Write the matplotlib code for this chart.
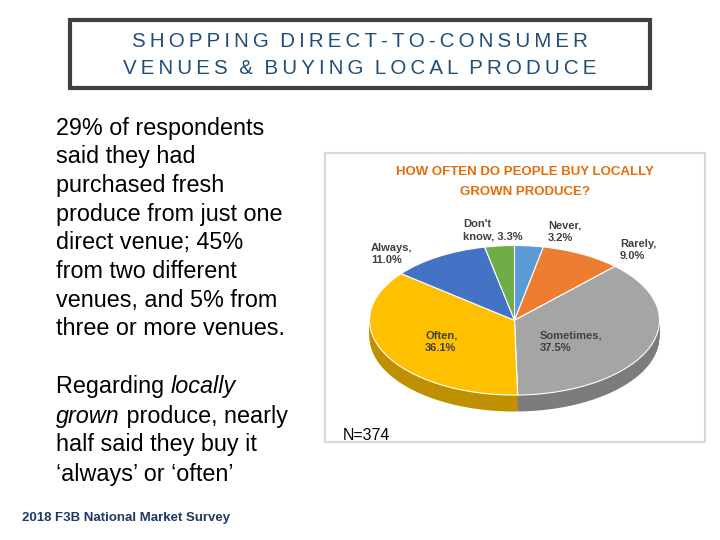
import matplotlib
matplotlib.use("Agg")
import matplotlib.pyplot as plt
import numpy as np
from matplotlib.patches import Rectangle
from matplotlib.colors import to_rgb
from matplotlib.text import Annotation

plt.rcParams['font.family'] = ['Liberation Sans', 'DejaVu Sans']

labels = ["Never", "Rarely", "Sometimes", "Often", "Always", "Don't know"]
values = [3.2, 9.0, 37.5, 36.1, 11.0, 3.3]
colors = ["#5B9BD5", "#ED7D31", "#A5A5A5", "#FFC000", "#4472C4", "#70AD47"]
label_texts = ["Never,\n3.2%", "Rarely,\n9.0%", "Sometimes,\n37.5%", "Often,\n36.1%", "Always,\n11.0%", "Don't\nknow, 3.3%"]
label_pos = [(548, 232), (620, 250), (540, 342), (425, 342), (371, 254), (463, 230)]

fig = plt.figure(figsize=(7.2, 5.4), dpi=100)
W, H = 720, 540
def fx(x): return x / W
def fy(y): return 1 - y / H

fig.patches.append(Rectangle((fx(70), fy(88)), fx(580), 68 / H, transform=fig.transFigure,
                             fill=False, ec="#404040", lw=3))
sp = lambda s: "\u2009".join(s).replace("\u2009 \u2009", "  ")
fig.text(fx(360), fy(42), sp("SHOPPING DIRECT-TO-CONSUMER"), ha="center", va="center",
         fontsize=14.8, color="#1F4E79")
fig.text(fx(360), fy(68), sp("VENUES & BUYING LOCAL PRODUCE"), ha="center", va="center",
         fontsize=14.8, color="#1F4E79")

FS = 16.8
lines = ["29% of respondents", "said they had", "purchased fresh", "produce from just one",
         "direct venue; 45%", "from two different", "venues, and 5% from", "three or more venues."]
for i, l in enumerate(lines):
    fig.text(fx(56), fy(128 + 28.7 * i), l, ha="left", va="center", fontsize=FS, color="black")

t1 = fig.text(fx(56), fy(387), "Regarding ", ha="left", va="center", fontsize=FS)
fig.add_artist(Annotation("locally", xy=(1, 0), xycoords=t1, va="bottom", ha="left",
                          fontsize=FS, style="italic"))
t2 = fig.text(fx(56), fy(416), "grown", ha="left", va="center", fontsize=FS, style="italic")
fig.add_artist(Annotation(" produce, nearly", xy=(1, 0), xycoords=t2, va="bottom", ha="left",
                          fontsize=FS))
fig.text(fx(56), fy(445), "half said they buy it", ha="left", va="center", fontsize=FS)
fig.text(fx(56), fy(474), "\u2018always\u2019 or \u2018often\u2019", ha="left", va="center", fontsize=FS)

fig.text(fx(22), fy(518), "2018 F3B National Market Survey", ha="left", va="center",
         fontsize=9.5, color="#1F3864", weight="bold")

# chart panel as background axes
bg = fig.add_axes([fx(325), fy(442), 380 / W, 289 / H], zorder=0)
bg.set_xticks([]); bg.set_yticks([])
for s in bg.spines.values():
    s.set_color("#D9D9D9"); s.set_linewidth(1.5)

ax = fig.add_axes([fx(355), fy(425), 319 / W, 187 / H], zorder=1)
dark = [tuple(c * 0.75 for c in to_rgb(col)) for col in colors]
for dy in np.linspace(-0.22, -0.01, 12):
    ax.pie(values, colors=dark, startangle=90, counterclock=False, center=(0, dy),
           wedgeprops=dict(lw=0))
ax.pie(values, colors=colors, startangle=90, counterclock=False, center=(0, 0),
       wedgeprops=dict(lw=0.8, ec="white"))
ax.set_aspect("auto")
ax.set_xlim(-1.1, 1.1)
ax.set_ylim(-1.4, 1.1)
ax.axis("off")

fig.text(fx(525), fy(172), "HOW OFTEN DO PEOPLE BUY LOCALLY", ha="center", va="center",
         fontsize=9.5, color="#E46C0A", weight="bold", zorder=5)
fig.text(fx(525), fy(192), "GROWN PRODUCE?", ha="center", va="center",
         fontsize=9.5, color="#E46C0A", weight="bold", zorder=5)

for txt, (x, y) in zip(label_texts, label_pos):
    fig.text(fx(x), fy(y), txt, ha="left", va="center", fontsize=8, color="#404040",
             weight="bold", linespacing=1.3, zorder=5)

fig.text(fx(343), fy(436), "N=374", ha="left", va="center", fontsize=11.5, color="black", zorder=5)

fig.savefig("out.png", dpi=100)
